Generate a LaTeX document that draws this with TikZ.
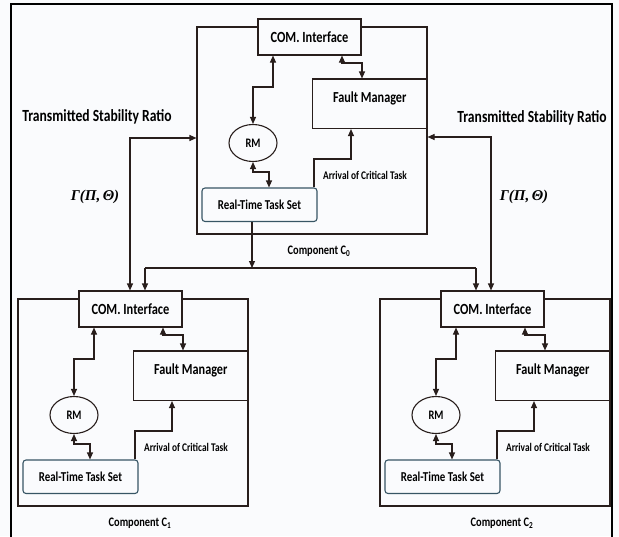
\documentclass[tikz,border=0pt]{standalone}
\usepackage{fontspec}
\setmainfont{Carlito}[FakeStretch=0.8]
\newfontfamily\gfont{Liberation Serif}
\usetikzlibrary{arrows.meta,shapes.geometric}
\definecolor{ln}{RGB}{40,30,28}
\definecolor{tsk}{RGB}{55,85,100}
\definecolor{bg}{RGB}{250,251,253}
\tikzset{
  blk/.style={draw=ln, line width=1.1pt, inner sep=0pt},
  compbox/.style={blk},
  rmnode/.style={ellipse, draw=ln, line width=1.1pt, inner sep=0pt, minimum width=48pt, minimum height=37pt, font=\fontsize{13}{14}\selectfont\bfseries},
  taskbox/.style={draw=tsk, line width=1.1pt, rounded corners=3pt, inner sep=0pt, minimum width=115pt, minimum height=33.5pt, font=\fontsize{13.6}{15}\selectfont\bfseries},
  comfont/.style={font=\fontsize{15.5}{16}\selectfont\bfseries},
  fmfont/.style={font=\fontsize{15.3}{16}\selectfont\bfseries},
  arrfont/.style={font=\fontsize{11.7}{13}\selectfont\bfseries, inner sep=0pt},
  cmpfont/.style={font=\fontsize{13}{14}\selectfont\bfseries, inner sep=0pt},
  tsrfont/.style={font=\fontsize{17}{18}\selectfont\bfseries, inner sep=0pt},
  gamfont/.style={font=\gfont\fontsize{15}{16}\selectfont\bfseries\itshape, inner sep=0pt},
  ln/.style={draw=ln, line width=1.1pt},
  arr/.style={ln, -{Triangle[length=7pt,width=6pt]}},
  both/.style={ln, {Triangle[length=7pt,width=6pt]}-{Triangle[length=7pt,width=6pt]}},
}
\newcommand\drawcomponent[4]{%
\begin{scope}[shift={(#1,#2)}]
  \node[compbox, minimum width=230pt, minimum height=207pt] (#3box) at (115,103.5) {};
  \node[blk, minimum width=115pt, minimum height=49.5pt] (#3fm) at (172.75,76.75) {};
  \node[fmfont, inner sep=0pt] (#3fmt) at (172.75,71) {Fault Manager};
  \node[blk, fill=bg, comfont, minimum width=103pt, minimum height=36pt] (#3com) at (112.5,10) {COM. Interface};
  \node[rmnode] (#3rm) at (56,116) {RM};
  \node[taskbox] (#3task) at (62.5,177.75) {Real-Time Task Set};
  \node[arrfont] (#3arr) at (168,148) {Arrival of Critical Task};
  \node[cmpfont] (#3lbl) at (122,224) {Component C\textsubscript{#4}};
  \coordinate (#3p1) at (76,60); \coordinate (#3p2) at (56,60);
  \draw[both] (#3com.south -| #3p1) -- (#3p1) -- (#3p2) -- (#3rm.north);
  \coordinate (#3q1) at (145,36); \coordinate (#3q2) at (165,36);
  \draw[both] (#3com.south -| #3q1) -- (#3q1) -- (#3q2) -- (#3q2 |- #3fm.north);
  \coordinate (#3r1) at (56,145); \coordinate (#3r2) at (72,145);
  \draw[both] (#3rm.south) -- (#3r1) -- (#3r2) -- (#3r2 |- #3task.north);
  \coordinate (#3s1) at (117,132); \coordinate (#3s2) at (154,132);
  \draw[arr] (#3task.north -| #3s1) -- (#3s1) -- (#3s2) -- (#3s2 |- #3fm.south);
\end{scope}}
\begin{document}
\begin{tikzpicture}[x=1pt,y=-1pt]
  \useasboundingbox (0,0) rectangle (619,536);
  \fill[bg] (0,0) rectangle (619,536);
  \draw[line width=2.2pt, black] (11,545) -- (11,4) -- (612,4) -- (612,545);
  \drawcomponent{197}{27}{c0}{0}
  \drawcomponent{18}{299}{c1}{1}
  \drawcomponent{380}{299}{c2}{2}
  % distribution from C0 task set
  \coordinate (split) at (252,268);
  \coordinate (jl) at (145,268);
  \coordinate (jr) at (476,268);
  \draw[arr] (c0task.south -| split) -- (split);
  \draw[ln] (jl) -- (jr);
  \draw[arr] (jl) -- (jl |- c1com.north);
  \draw[arr] (jr) -- (jr |- c2com.north);
  % transmitted stability ratio
  \coordinate (tl) at (130,138);
  \coordinate (tr) at (491,137);
  \draw[both] (tl -| c0box.west) -- (tl) -- (tl |- c1com.north);
  \draw[both] (tr -| c0box.east) -- (tr) -- (tr |- c2com.north);
  \node[tsrfont] (tsrl) at (97,117) {Transmitted Stability Ratio};
  \node[tsrfont] (tsrr) at (532,118) {Transmitted Stability Ratio};
  \node[gamfont] (gl) at (95,197) {Γ(Π,\,Θ)};
  \node[gamfont] (gr) at (524,197) {Γ(Π,\,Θ)};
\end{tikzpicture}
\end{document}
